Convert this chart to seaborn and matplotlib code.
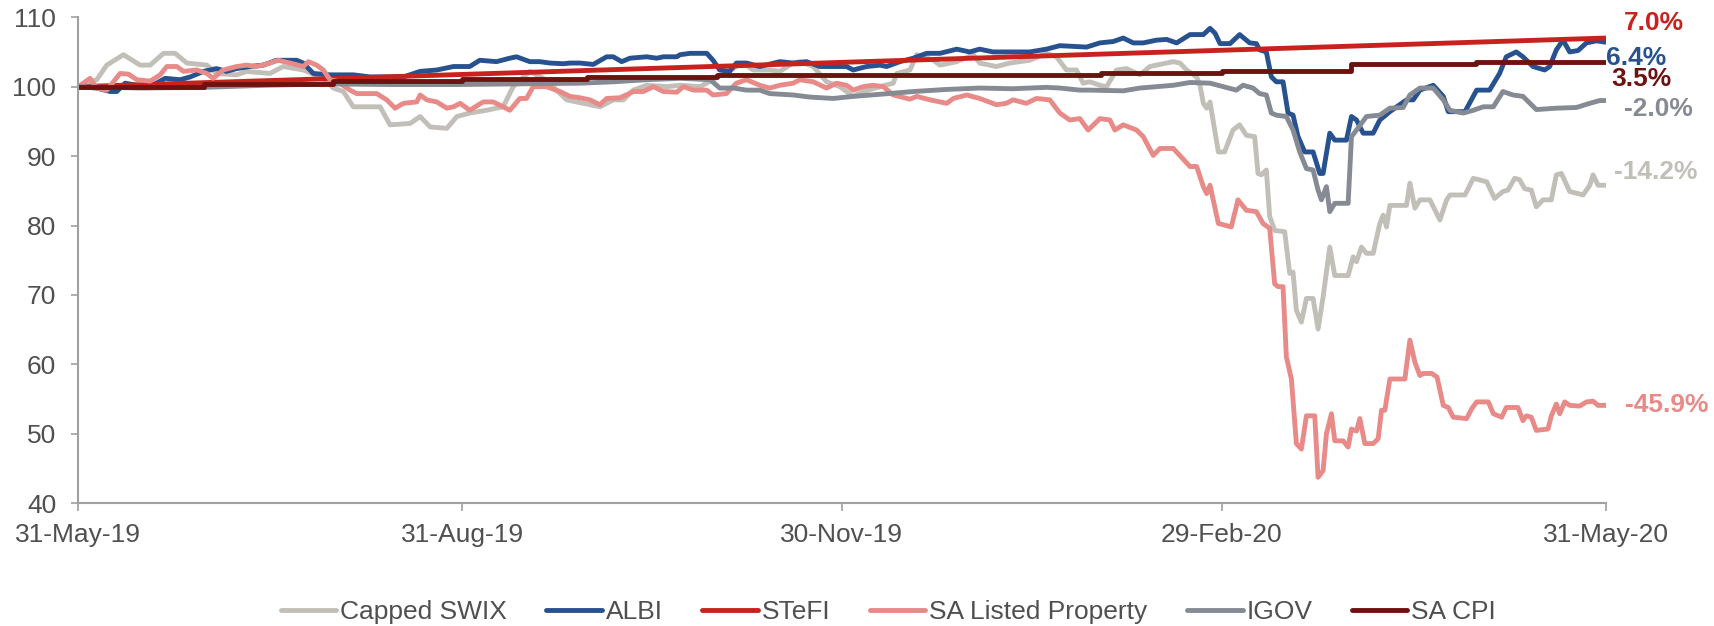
import numpy as np
import pandas as pd
import matplotlib
matplotlib.use("Agg")
import matplotlib.pyplot as plt
import matplotlib.dates as mdates
import seaborn as sns

# values; x is days since 31-May-19
start = pd.Timestamp("2019-05-31")

swix_days = [0, 4.4, 6.8, 10.8, 14.8, 17.2, 20.4, 23.2, 26, 30.8, 33.1, 37.9, 40.3, 45.9, 49.1, 53.9,
             58.7, 61.1, 63.5, 65.9, 72.3, 74.7, 79.5, 81.9, 84.3, 88.3, 90.7, 93.8, 97.8, 101.8, 104.2,
             108.2, 112, 117, 125, 128.2, 130.6, 133, 136.2, 141, 144.2, 149, 152.1, 156.1, 159.3,
             161.7, 165.7, 168.1, 171.3, 172.9, 176.1, 179.3, 182.5, 185.7, 188.1, 192.1, 195.3, 196.1,
             199.3, 200.9, 204.9, 206.5, 210.5, 214.5, 216, 220, 223.2, 228, 232, 234.4, 236.8, 239.2,
             240.8, 242.4, 244.8, 246.4, 248.8, 251.2, 254.4, 256.8, 260.8, 262.4, 264, 265.6, 268,
             268.8, 269.6, 270.4, 271.2, 273.2, 274.7, 276.7, 278.3, 279.9, 281.9, 282.7, 283.5, 284.7,
             285.5, 286.7, 289.1, 290.3, 291.1, 291.9, 293.1, 294.3, 295.9, 297.1, 298.3, 299.9, 301.1,
             304.3, 305.5, 306.3, 307.5, 308.7, 310.3, 311.9, 312.7, 313.5, 314.3, 318.3, 319.1, 320.3,
             321.5, 323.9, 326.3, 327.9, 328.7, 332.3, 334.3, 337.5, 339.4, 341.4, 342.6, 344.2, 345.4,
             346.6, 348.2, 349.4, 351, 353, 354.2, 355.4, 357.4, 359.4, 360.6, 362.2, 363, 364.2, 366]
swix_vals = [100, 101.0, 103.1, 104.6, 103.1, 103.1, 104.8, 104.8, 103.4, 103.1, 101.9, 101.7, 102.2,
             101.9, 102.9, 102.4, 101.2, 99.8, 99.3, 97.1, 97.1, 94.5, 94.7, 95.7, 94.2, 94.0, 95.7, 96.2,
             96.6, 97.1, 100.0, 102.2, 101.0, 98.1, 97.1, 98.1, 98.1, 99.5, 100.2, 100.0, 100.2, 100.0,
             101.0, 102.4, 103.4, 102.4, 102.4, 102.2, 103.4, 103.6, 102.9, 100.7, 100.0, 98.6, 99.3,
             100.0, 100.5, 101.9, 102.4, 104.6, 103.8, 103.1, 103.6, 104.6, 103.4, 102.9, 103.4, 103.8,
             104.8, 104.3, 102.4, 102.4, 100.5, 100.7, 100.2, 100.0, 102.4, 102.6, 101.7, 102.9, 103.4,
             103.6, 103.4, 102.4, 101.4, 100.2, 97.6, 96.9, 97.8, 90.6, 90.6, 93.75, 94.5, 93.0, 92.8,
             87.5, 87.3, 88.0, 81.3, 79.3, 79.1, 73.1, 73.3, 67.8, 66.1, 69.5, 69.5, 65.1, 69.7, 76.9,
             72.8, 72.8, 75.5, 74.8, 76.9, 76.0, 76.0, 80.3, 81.5, 79.8, 82.9, 82.9, 86.1, 82.5, 83.7,
             83.7, 80.8, 83.7, 84.4, 84.4, 86.8, 86.3, 83.9, 84.9, 85.1, 86.8, 86.6, 85.3, 85.1, 82.7,
             83.7, 83.7, 87.3, 87.5, 84.9, 84.6, 84.4, 85.8, 87.3, 85.8, 85.8]

albi_days = [0, 4.4, 7.6, 9.2, 11.2, 14, 17.2, 20.8, 24.4, 26.8, 30, 33.1, 35.5, 37.9, 41.1, 44.3, 47.5,
             52.3, 53.9, 56.3, 60.3, 65.9, 69.9, 77.9, 81.9, 85.9, 89.9, 93.8, 96.2, 100.2, 103.4, 105,
             108.2, 110.6, 113, 116.2, 117.8, 120.2, 123.4, 126.6, 128.2, 130.2, 132.2, 136.2, 138.6,
             140.2, 143.4, 144.2, 146.6, 150.6, 152.1, 153.7, 156.1, 157.7, 160.1, 163.3, 168.1, 171.3,
             174.5, 177.7, 180.9, 184.1, 185.7, 188.9, 192.1, 193.7, 196.9, 200.1, 203.3, 206.5, 210.5,
             213.6, 216, 219.2, 224, 228, 232, 235.2, 238.4, 241.6, 244.8, 248, 250.4, 252.8, 255.2,
             258.4, 260.8, 263.2, 266.4, 269.6, 271.2, 272.4, 273.6, 276, 278.3, 280.7, 282.3, 283.1,
             284.7, 285.9, 287.1, 288.7, 289.9, 291.1, 292.3, 293.9, 295.9, 297.5, 298.3, 299.9, 301.1,
             303.9, 305.1, 306.3, 307.9, 310.3, 311.9, 314.3, 318.3, 319.9, 321.5, 324.7, 327.1, 328.3,
             332.3, 335.1, 338.2, 340.6, 342.2, 344.6, 346.2, 348.6, 351.4, 352.6, 354.2, 355.8, 357.4,
             359.4, 361.4, 363.8, 366]
albi_vals = [100, 99.8, 99.3, 99.3, 100.5, 100.2, 100, 101.2, 101.0, 101.4, 102.2, 102.6, 102.2, 102.6,
             102.9, 103.1, 103.8, 103.8, 103.4, 101.9, 101.7, 101.7, 101.4, 101.4, 102.2, 102.4, 102.9,
             102.9, 103.8, 103.6, 104.1, 104.3, 103.6, 103.6, 103.4, 103.3, 103.4, 103.4, 103.2, 104.3,
             104.3, 103.6, 104.1, 104.3, 104.1, 104.3, 104.3, 104.6, 104.8, 104.8, 103.8, 102.4, 102.2,
             103.4, 103.4, 102.9, 103.6, 103.4, 103.6, 102.9, 102.9, 102.9, 102.4, 102.9, 103.1, 102.9,
             103.6, 104.1, 104.8, 104.8, 105.4, 105.0, 105.4, 105.0, 105.0, 105.0, 105.4, 105.9, 105.8,
             105.7, 106.3, 106.5, 107.0, 106.3, 106.3, 106.7, 106.8, 106.3, 107.5, 107.5, 108.4, 107.7,
             106.2, 106.2, 107.5, 106.3, 106.2, 105.3, 105.0, 101.4, 100.7, 100.7, 96.2, 95.9, 92.8, 90.6,
             90.6, 87.5, 87.5, 93.3, 92.3, 92.3, 95.7, 95.2, 93.3, 93.3, 95.2, 96.4, 98.1, 98.1, 99.5,
             100.2, 98.6, 96.4, 96.4, 99.5, 99.5, 101.9, 104.3, 105.0, 104.3, 102.9, 102.4, 102.9, 105.3,
             106.7, 105.0, 105.2, 106.3, 106.6, 106.4]

stefi_days = [0, 366]
stefi_vals = [100, 107.0]

prop_days = [0, 2.8, 4.4, 6.8, 10, 12, 14, 17.2, 19.6, 21.2, 23.6, 25.2, 28.4, 30.8, 32.3, 34.7, 37.9,
             40.3, 42.7, 45.9, 47.9, 50.7, 53.9, 55.1, 57.1, 58.7, 60.3, 61.9, 65.1, 66.7, 71.5, 73.9,
             75.9, 77.9, 81.1, 81.9, 83.5, 85.9, 88.3, 89.9, 91.5, 93.8, 97, 99.4, 101.8, 103.4, 105.8,
             107.4, 109, 112.2, 115.4, 117.8, 120.2, 122.6, 125, 126.6, 129.8, 133, 135.4, 137.8, 140.2,
             143.4, 145, 147.4, 150.6, 152.1, 155.3, 157.7, 160.1, 163.3, 165.7, 168.1, 171.3, 172.9,
             176.1, 179.3, 181.7, 184.1, 185.7, 188.1, 190.5, 192.9, 195.3, 199.3, 200.9, 204.1, 208.1,
             209.7, 212.9, 216, 220, 222.4, 224, 227.2, 229.6, 232.8, 235.2, 237.6, 240, 242, 244.8,
             247.2, 248.4, 250.4, 253.6, 255.2, 257.6, 259.2, 262.4, 266.4, 268, 269.6, 270.4, 271.2,
             273.2, 275.1, 276.3, 277.9, 279.9, 282.3, 283.9, 285.5, 286.7, 287.5, 288.7, 289.5, 290.7,
             291.9, 293.1, 294.3, 296.3, 297.1, 298.3, 299.1, 300.3, 301.1, 303.1, 304.3, 305.1, 306.3,
             307.1, 308.3, 310.3, 311.5, 312.3, 313.1, 314.3, 317.9, 319.1, 320.3, 321.5, 322.3, 324.3,
             325.6, 327.1, 328.3, 329.5, 332.7, 333.9, 335.1, 337.9, 339.1, 341.1, 342.2, 345, 346.2,
             347, 348.2, 349.4, 352.2, 353, 354.2, 355, 356.2, 357.4, 359.8, 361.4, 363, 364.2, 366]
prop_vals = [100, 101.2, 99.8, 99.5, 101.9, 101.8, 101.0, 100.8, 101.7, 102.9, 102.9, 102.2, 102.4,
             101.9, 101.2, 102.4, 102.9, 103.1, 102.9, 103.4, 103.8, 103.4, 102.9, 103.6, 103.1, 102.4,
             101.0, 100.8, 99.5, 99.0, 99.0, 98.1, 96.9, 97.6, 97.8, 98.8, 98.1, 97.8, 96.9, 97.1, 97.6,
             96.6, 97.8, 97.8, 97.1, 96.6, 98.3, 98.3, 100.0, 100.0, 99.3, 98.6, 98.4, 98.1, 97.4, 98.3,
             98.4, 99.3, 99.3, 100.0, 99.3, 99.2, 100.0, 99.5, 99.5, 98.8, 99.0, 100.5, 101.0, 100.2,
             99.8, 100.2, 100.5, 101.0, 100.7, 99.8, 100.5, 100.2, 99.5, 100.0, 100.2, 100.0, 98.8, 98.2,
             98.6, 98.1, 97.6, 98.3, 98.8, 98.3, 97.4, 97.6, 98.1, 97.6, 98.3, 98.1, 96.2, 95.2, 95.4,
             93.75, 95.4, 95.2, 93.75, 94.5, 93.75, 92.8, 90.1, 91.1, 91.1, 88.5, 88.5, 85.6, 84.6, 85.8,
             80.3, 80.0, 79.8, 83.7, 82.2, 82.0, 80.3, 79.6, 71.6, 71.2, 71.2, 61.1, 57.9, 48.6, 47.8,
             52.6, 52.6, 43.75, 44.7, 50.0, 52.9, 49.0, 49.0, 48.1, 50.7, 50.4, 52.2, 48.6, 48.6, 49.3,
             53.4, 53.4, 57.9, 57.9, 63.5, 60.3, 58.4, 58.7, 58.7, 58.2, 54.1, 53.8, 52.4, 52.2, 53.6,
             54.6, 54.6, 52.9, 52.4, 53.8, 53.8, 51.9, 52.6, 52.4, 50.5, 50.7, 52.6, 54.3, 52.9, 54.6,
             54.1, 54.0, 54.6, 54.7, 54.1, 54.1]

igov_days = [0, 15, 30, 45, 60, 75, 90, 105, 120.2, 128.2, 136.2, 144.2, 151.4, 153.7, 157, 160.1,
             163.3, 165.7, 171.3, 175.3, 180.9, 185.7, 192.1, 200.1, 208.1, 216, 224, 232, 235.2, 240,
             242.4, 250.4, 254.4, 262.4, 266.4, 271.2, 274.4, 277.5, 279.1, 281.5, 283.1, 284.7, 285.9,
             287.1, 289.5, 291.1, 292.7, 294.3, 295.9, 297.1, 297.9, 299.1, 299.9, 301.1, 304.3, 305.1,
             306.3, 308.7, 311.9, 314.3, 317.5, 319.1, 321.5, 324.7, 327.1, 328.7, 331.9, 334.3, 336.7,
             339.1, 341.4, 343.8, 346.2, 349.4, 354.2, 359, 362.2, 364.6, 366]
igov_vals = [100, 99.8, 99.9, 100.2, 100.4, 100.3, 100.3, 100.4, 100.5, 100.7, 101.0, 101.2, 101.0,
             99.8, 99.8, 99.5, 99.5, 99.0, 98.8, 98.5, 98.3, 98.6, 98.9, 99.3, 99.6, 99.8, 99.7, 99.9,
             99.8, 99.5, 99.5, 99.4, 99.8, 100.2, 100.6, 100.5, 100.0, 99.5, 100.2, 99.8, 99.0, 98.8,
             96.2, 95.9, 95.7, 93.75, 90.6, 88.2, 88.0, 85.1, 83.7, 85.6, 82.0, 83.2, 83.2, 92.8, 93.75,
             95.7, 95.9, 96.9, 97.0, 98.8, 99.8, 99.8, 98.1, 96.6, 96.2, 96.6, 97.1, 97.1, 99.3, 98.8,
             98.6, 96.7, 96.9, 97.0, 97.6, 98.0, 98.0]

# CPI is monthly, held flat between releases
cpi_days = [0, 30, 61, 92, 122, 153, 183, 214, 245, 274, 305, 335, 366]
cpi_vals = [100.0, 100.45, 100.75, 101.05, 101.35, 101.65, 101.7, 101.75, 102.0, 102.3, 103.25, 103.5, 103.5]

names = ["Capped SWIX", "ALBI", "STeFI", "SA Listed Property", "IGOV", "SA CPI"]
colors = ["#C2BFB8", "#28528F", "#C8221E", "#E88A88", "#858A93", "#6E1210"]
end_labels = ["-14.2%", "6.4%", "7.0%", "-45.9%", "-2.0%", "3.5%"]

series = [(swix_days, swix_vals), (albi_days, albi_vals), (stefi_days, stefi_vals),
          (prop_days, prop_vals), (igov_days, igov_vals), (cpi_days, cpi_vals)]

# where the end labels sit (days past start, y value)
label_x = [367.9, 366.1, 370.5, 370.6, 370.3, 367.3]
label_y = [87.65, 104.1, 109.1, 54.1, 96.8, 101.1]

sns.set_style("white")
plt.rcParams["font.family"] = ["Liberation Sans", "DejaVu Sans"]

fig = plt.figure(figsize=(17.15, 6.26), dpi=100)
ax = fig.add_axes([0.0457, 0.196, 0.8905, 0.7765])

for (d, v), name, c in zip(series, names, colors):
    x = start + pd.to_timedelta(d, unit="D")
    kw = {"drawstyle": "steps-post"} if name == "SA CPI" else {}
    sns.lineplot(x=x, y=v, ax=ax, color=c, lw=3.5, sort=False, label=name, **kw)

for txt, lx, ly, c in zip(end_labels, label_x, label_y, colors):
    ax.text(start + pd.Timedelta(days=lx), ly, txt, color=c, fontsize=19,
            fontweight="bold", ha="left", va="center", clip_on=False)

end = start + pd.Timedelta(days=366)
ax.set_xlim(start, end)
ax.set_ylim(40, 110)
ax.set_yticks(np.arange(40, 111, 10))
ticks = pd.to_datetime(["2019-05-31", "2019-08-31", "2019-11-30", "2020-02-29", "2020-05-31"])
ax.set_xticks(ticks)
ax.xaxis.set_major_formatter(mdates.DateFormatter("%d-%b-%y"))
ax.set_xlabel("")
ax.set_ylabel("")

for s in ["top", "right"]:
    ax.spines[s].set_visible(False)
for s in ["left", "bottom"]:
    ax.spines[s].set_color("#A0A0A0")
    ax.spines[s].set_linewidth(1.5)
ax.tick_params(axis="x", length=6, width=1.2, color="#A0A0A0", pad=8,
               labelsize=19, labelcolor="#505050", bottom=True, direction="out")
ax.tick_params(axis="y", length=5, width=1.2, color="#A0A0A0", pad=11,
               labelsize=19, labelcolor="#505050", left=True, direction="out")

h, l = ax.get_legend_handles_labels()
ax.get_legend().remove()
fig.legend(h, l, loc="center", bbox_to_anchor=(0.518, 0.022), ncol=6, frameon=False,
           fontsize=19, handlelength=2.1, handletextpad=0.15, columnspacing=1.5,
           labelcolor="#505050")

fig.savefig("out.png", dpi=100)
